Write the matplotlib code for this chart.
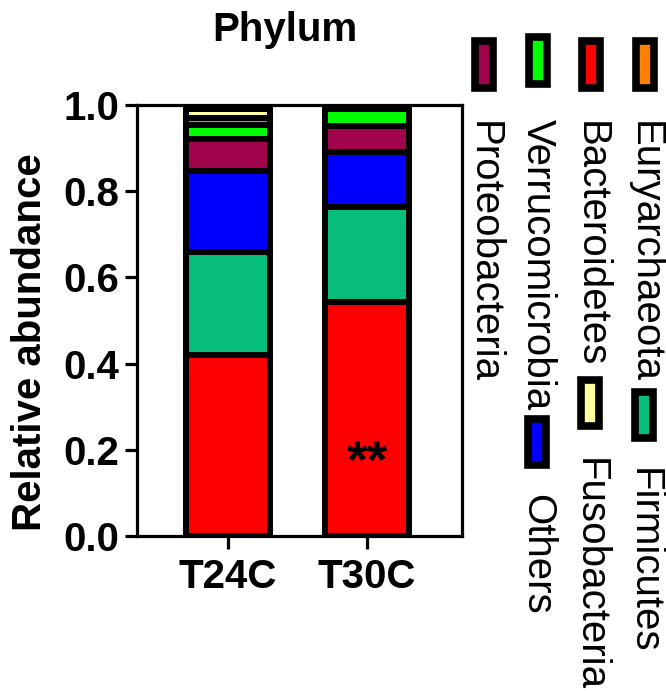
import matplotlib
matplotlib.use("Agg")
import matplotlib.pyplot as plt
from matplotlib.patches import Rectangle

plt.rcParams['font.family'] = ['Liberation Sans', 'DejaVu Sans']

# ---- data ----
groups = ['T24C', 'T30C']
phyla = ['Bacteroidetes', 'Firmicutes', 'Others', 'Proteobacteria',
         'Verrucomicrobia', 'Euryarchaeota', 'Fusobacteria']
t24c = [0.419, 0.239, 0.188, 0.074, 0.034, 0.015, 0.022]
t30c = [0.542, 0.221, 0.127, 0.061, 0.039, 0.0, 0.0]
colors = ['#FF0000', '#06BD7A', '#0000FF', '#A0044A', '#00FF00', '#FF8000', '#FFFFA0']
sig_label = '**'
sig_group = 1
sig_y = 0.168
yticks = [0.0, 0.2, 0.4, 0.6, 0.8, 1.0]

W, H = 666, 691
fig = plt.figure(figsize=(W / 100, H / 100), dpi=100)

def fx(px):
    return px / W

def fy(py):
    return 1 - py / H

ax = fig.add_axes([fx(137), fy(536), fx(462) - fx(137), fy(105) - fy(536)])

FS = 29
lw_bar = 4.3
values = [t24c, t30c]
xs = list(range(len(groups)))
for gi, vals in enumerate(values):
    bottom = 0.0
    for pi, v in enumerate(vals):
        ax.bar(xs[gi], v, bottom=bottom, width=0.604, color=colors[pi],
               edgecolor='black', linewidth=lw_bar, zorder=3)
        bottom += v

ax.text(xs[sig_group], sig_y, sig_label, ha='center', va='center',
        fontsize=38, fontweight='bold', color='black', zorder=5)

ax.set_xlim(-0.655, 1.683)
ax.set_ylim(0, 1.0)
ax.set_xticks(xs)
ax.set_xticklabels(groups, fontsize=FS, fontweight='bold')
ax.set_yticks(yticks)
ax.set_yticklabels([f'{t:.1f}' for t in yticks], fontsize=FS, fontweight='bold')
ax.tick_params(axis='both', length=9, width=2.3, color='black', pad=4)
ax.tick_params(axis='x', pad=7)
for s in ax.spines.values():
    s.set_linewidth(2.3)
    s.set_color('black')
ax.set_ylabel('Relative abundance', fontsize=FS, fontweight='bold')
ax.yaxis.set_label_coords(-0.27, 0.45)

fig.text(fx(285), fy(11), 'Phylum', ha='center', va='top',
         fontsize=FS, fontweight='bold')

# ---- rotated legend ----
legend_items = [
    # (phylum index, center x px, marker top px, text top px)
    (3, 484, 38, 121),
    (4, 538, 34, 119),
    (0, 591, 38, 121),
    (5, 645, 38, 121),
    (2, 537, 415, 494),
    (6, 590, 376, 458),
    (1, 644, 388, 468),
]
mw, mh = 18, 46
for idx, cx, mtop, ttop in legend_items:
    r = Rectangle((fx(cx - mw / 2), fy(mtop + 3.5 + mh)), mw / W, mh / H,
                  transform=fig.transFigure, facecolor=colors[idx],
                  edgecolor='black', linewidth=5.5)
    fig.add_artist(r)
    fig.text(fx(cx), fy(ttop), phyla[idx], rotation=-90, ha='center',
             va='top', fontsize=FS)

fig.savefig('out.png', dpi=100)
